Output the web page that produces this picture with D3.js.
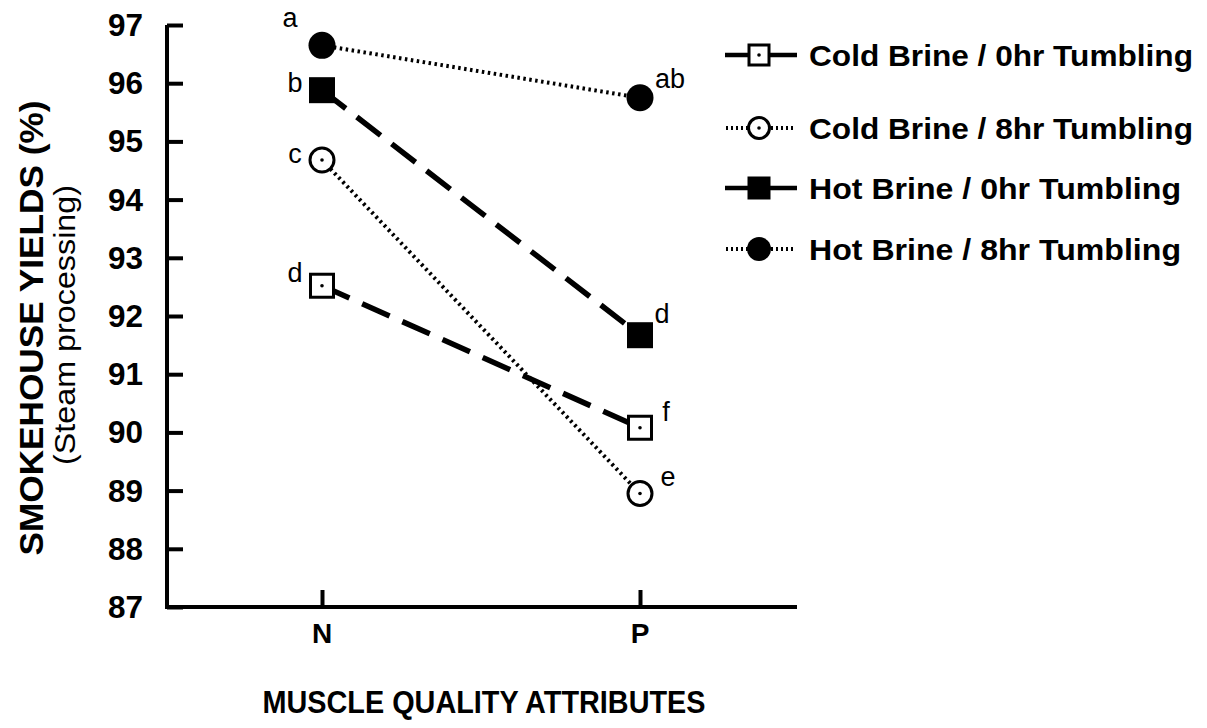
<!DOCTYPE html>
<html>
<head>
<meta charset="utf-8">
<script src="https://cdn.jsdelivr.net/npm/d3@7"></script>
<style>
  body { margin: 0; background: #fff; }
  svg { display: block; font-family: "Liberation Sans", Arial, sans-serif; }
</style>
</head>
<body>
<div id="chart"></div>
<script>
// categories and tick labels
const categories = ["N", "P"];
const yTicks = [87, 88, 89, 90, 91, 92, 93, 94, 95, 96, 97];

// series values (N, P)
const coldBrine0hr = [92.52, 90.08];
const coldBrine8hr = [94.68, 88.95];
const hotBrine0hr = [95.88, 91.67];
const hotBrine8hr = [96.65, 95.75];

// significance letters (N, P)
const coldBrine0hrLetters = ["d", "f"];
const coldBrine8hrLetters = ["c", "e"];
const hotBrine0hrLetters = ["b", "d"];
const hotBrine8hrLetters = ["a", "ab"];

const seriesNames = [
  "Cold Brine / 0hr Tumbling",
  "Cold Brine / 8hr Tumbling",
  "Hot Brine / 0hr Tumbling",
  "Hot Brine / 8hr Tumbling"
];

const series = [
  { name: seriesNames[0], values: coldBrine0hr, letters: coldBrine0hrLetters, shape: "square", filled: false, dashed: true,
    letterOff: [[-27, -4], [26, -7]], nameLen: 384 },
  { name: seriesNames[1], values: coldBrine8hr, letters: coldBrine8hrLetters, shape: "circle", filled: false, dashed: false,
    letterOff: [[-27, 3], [28, -8]], nameLen: 384 },
  { name: seriesNames[2], values: hotBrine0hr, letters: hotBrine0hrLetters, shape: "square", filled: true, dashed: true,
    letterOff: [[-27, 2], [22, -12]], nameLen: 372 },
  { name: seriesNames[3], values: hotBrine8hr, letters: hotBrine8hrLetters, shape: "circle", filled: true, dashed: false,
    letterOff: [[-32, -18], [30, -10]], nameLen: 372 }
];

const width = 1207, height = 728;
const svg = d3.select("#chart").append("svg")
  .attr("width", width).attr("height", height);

const x = d3.scalePoint().domain(categories).range([322, 640]);
const y = d3.scaleLinear().domain([87, 97]).range([607, 25]);

// axes
const yAxis = svg.append("g").attr("transform", "translate(167,0)")
  .call(d3.axisRight(y).tickValues(yTicks).tickSize(16).tickFormat(""));
yAxis.select(".domain").attr("d", `M0,${y(97)}V${y(87)}`);
yAxis.selectAll("line, path").attr("stroke", "#000").attr("stroke-width", 4);

svg.selectAll(".ylab").data(yTicks).enter().append("text")
  .attr("x", 143).attr("y", d => y(d) + 11)
  .attr("text-anchor", "end")
  .attr("font-size", 31).attr("font-weight", "bold")
  .attr("textLength", 35).attr("lengthAdjust", "spacingAndGlyphs")
  .text(d => d);

const xAxis = svg.append("g").attr("transform", `translate(0,${y(87)})`)
  .call(d3.axisTop(x).tickSize(17).tickFormat(""));
xAxis.select(".domain").attr("d", "M165,0H797");
xAxis.selectAll("line, path").attr("stroke", "#000").attr("stroke-width", 4);

svg.selectAll(".xlab").data(categories).enter().append("text")
  .attr("x", d => x(d)).attr("y", 643)
  .attr("text-anchor", "middle")
  .attr("font-size", 28).attr("font-weight", "bold")
  .text(d => d);

// axis titles
svg.append("text")
  .attr("transform", "translate(43,328) rotate(-90)")
  .attr("text-anchor", "middle")
  .attr("font-size", 34).attr("font-weight", "bold")
  .attr("textLength", 455).attr("lengthAdjust", "spacingAndGlyphs")
  .text("SMOKEHOUSE YIELDS (%)");
svg.append("text")
  .attr("transform", "translate(75,325) rotate(-90)")
  .attr("text-anchor", "middle")
  .attr("font-size", 29)
  .attr("textLength", 280).attr("lengthAdjust", "spacingAndGlyphs")
  .text("(Steam processing)");
svg.append("text")
  .attr("x", 484).attr("y", 713)
  .attr("text-anchor", "middle")
  .attr("font-size", 32).attr("font-weight", "bold")
  .attr("textLength", 443).attr("lengthAdjust", "spacingAndGlyphs")
  .text("MUSCLE QUALITY ATTRIBUTES");

function lineStyle(sel, dashed) {
  return sel.attr("stroke", "#000")
    .attr("stroke-width", dashed ? 5.5 : 4)
    .attr("stroke-dasharray", dashed ? "30,14" : "2.5,3.5")
    .attr("fill", "none");
}

function drawMarker(g, s, cx, cy, size) {
  const h = size / 2;
  if (s.shape === "square") {
    if (s.filled) {
      g.append("rect").attr("x", cx - h).attr("y", cy - h)
        .attr("width", size).attr("height", size).attr("fill", "#000");
    } else {
      g.append("rect").attr("x", cx - h + 1.5).attr("y", cy - h + 1.5)
        .attr("width", size - 3).attr("height", size - 3)
        .attr("fill", "#fff").attr("stroke", "#000").attr("stroke-width", 3);
    }
  } else {
    if (s.filled) {
      g.append("circle").attr("cx", cx).attr("cy", cy).attr("r", h).attr("fill", "#000");
    } else {
      g.append("circle").attr("cx", cx).attr("cy", cy).attr("r", h - 1.5)
        .attr("fill", "#fff").attr("stroke", "#000").attr("stroke-width", 3);
    }
  }
  if (!s.filled) {
    g.append("circle").attr("cx", cx).attr("cy", cy).attr("r", 1.8).attr("fill", "#000");
  }
}

const line = d3.line().x((d, i) => x(categories[i])).y(d => y(d));

// lines
series.forEach(s => {
  lineStyle(svg.append("path").datum(s.values).attr("d", line), s.dashed);
});

// markers and letters
series.forEach(s => {
  const g = svg.append("g");
  s.values.forEach((v, i) => {
    const cx = x(categories[i]), cy = y(v);
    drawMarker(g, s, cx, cy, s.shape === "square" ? 26 : 27);
    g.append("text")
      .attr("x", cx + s.letterOff[i][0]).attr("y", cy + s.letterOff[i][1])
      .attr("text-anchor", "middle")
      .attr("font-size", 27)
      .text(s.letters[i]);
  });
});

// legend
const legendY = [55, 128, 188, 249];
series.forEach((s, i) => {
  const g = svg.append("g").attr("transform", `translate(0,${legendY[i]})`);
  if (s.dashed) {
    g.append("line").attr("x1", 725).attr("x2", 797).attr("y1", 0).attr("y2", 0)
      .attr("stroke", "#000").attr("stroke-width", 4.5);
  } else {
    g.append("line").attr("x1", 726).attr("x2", 796).attr("y1", 0).attr("y2", 0)
      .attr("stroke", "#000").attr("stroke-width", 4).attr("stroke-dasharray", "2,3");
  }
  drawMarker(g, s, 759, 0, s.shape === "square" ? 23 : 24);
  g.append("text")
    .attr("x", 809).attr("y", 11)
    .attr("font-size", 30).attr("font-weight", "bold")
    .attr("textLength", s.nameLen).attr("lengthAdjust", "spacingAndGlyphs")
    .text(s.name);
});
</script>
</body>
</html>
